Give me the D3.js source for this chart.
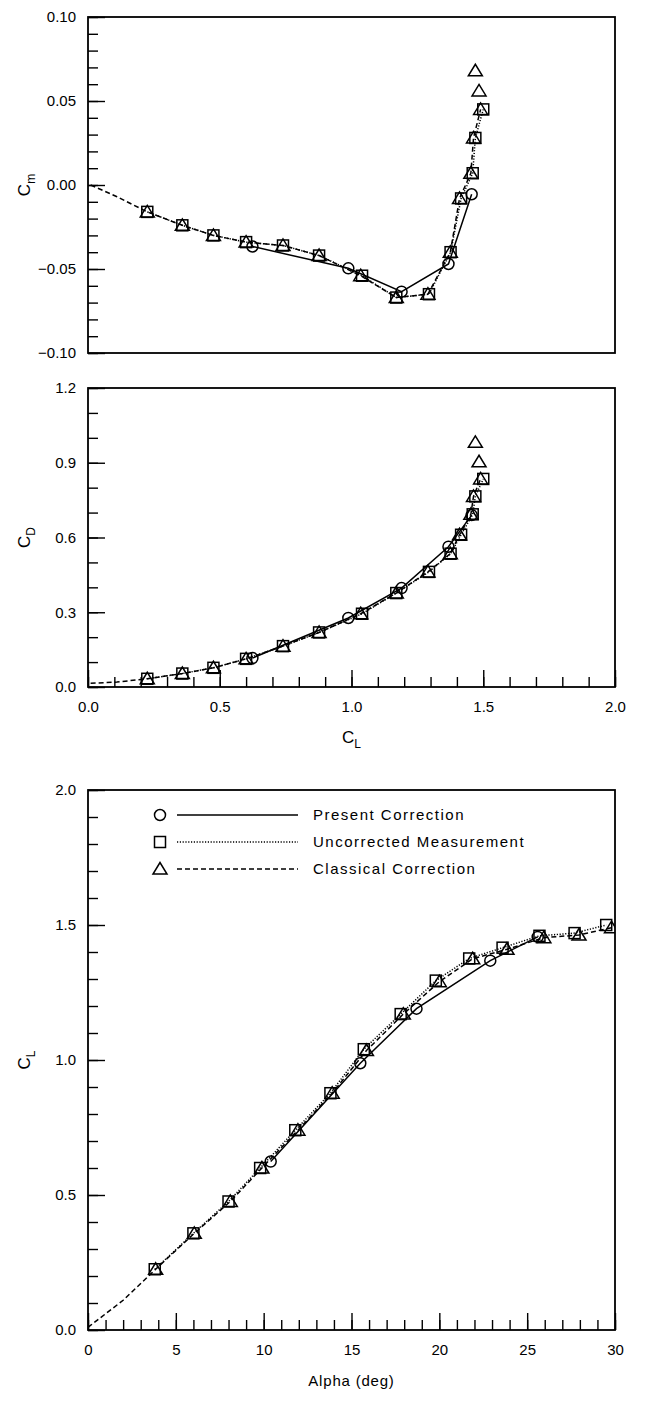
<!DOCTYPE html>
<html>
<head>
<meta charset="utf-8">
<script src="https://cdn.jsdelivr.net/npm/d3@7"></script>
<style>
  body { margin: 0; background: #fff; }
  text { font-family: "Liberation Sans", Arial, sans-serif; fill: #000; }
</style>
</head>
<body>
<svg id="chart" width="650" height="1405"></svg>
<script>
// ---- data ----
const presentAlpha = [10.4, 15.5, 18.7, 22.9, 25.6];
const presentCL    = [0.624, 0.988, 1.19, 1.368, 1.456];
const presentCD    = [0.116, 0.277, 0.397, 0.563, 0.69];
const presentCm    = [-0.0366, -0.0496, -0.0635, -0.047, -0.0055];

const uncorrAlpha = [3.8, 6.0, 8.0, 9.8, 11.8, 13.8, 15.7, 17.8, 19.8, 21.7, 23.6, 25.7, 27.7, 29.5];
const uncorrCL    = [0.225, 0.358, 0.476, 0.60, 0.74, 0.877, 1.04, 1.17, 1.294, 1.376, 1.416, 1.46, 1.47, 1.50];
const uncorrCD    = [0.033, 0.054, 0.077, 0.113, 0.164, 0.219, 0.294, 0.377, 0.462, 0.535, 0.611, 0.693, 0.765, 0.835];
const uncorrCm    = [-0.016, -0.024, -0.030, -0.034, -0.036, -0.042, -0.054, -0.067, -0.065, -0.040, -0.008, 0.007, 0.028, 0.045];

// classical curve starts at the origin; points below alpha 3 carry no symbol
const classAlpha = [0, 2, 3.85, 6.05, 8.1, 9.9, 11.95, 13.9, 15.85, 17.95, 20.0, 21.9, 23.85, 25.95, 27.95, 29.8, 31.9, 33.9];
const classCL    = [0.01, 0.11, 0.225, 0.358, 0.476, 0.60, 0.74, 0.877, 1.035, 1.17, 1.29, 1.375, 1.41, 1.453, 1.463, 1.49, 1.484, 1.47];
const classCD    = [0.015, 0.02, 0.033, 0.054, 0.077, 0.113, 0.164, 0.219, 0.294, 0.377, 0.462, 0.535, 0.611, 0.693, 0.765, 0.835, 0.904, 0.982];
const classCm    = [0, -0.007, -0.016, -0.024, -0.030, -0.034, -0.036, -0.042, -0.054, -0.067, -0.065, -0.040, -0.008, 0.007, 0.028, 0.045, 0.056, 0.068];

const seriesNames = ["Present Correction", "Uncorrected Measurement", "Classical Correction"];
const markerMinAlpha = 3;
const alphaMax = 30;

function rows(alpha, cl, cd, cm) {
  return alpha.map((a, i) => ({alpha: a, CL: cl[i], CD: cd[i], Cm: cm[i]}));
}

const series = [
  {name: seriesNames[0], symbol: "circle",   dash: null,      data: rows(presentAlpha, presentCL, presentCD, presentCm)},
  {name: seriesNames[1], symbol: "square",   dash: "1.2,1.6", data: rows(uncorrAlpha, uncorrCL, uncorrCD, uncorrCm)},
  {name: seriesNames[2], symbol: "triangle", dash: "5,3",     data: rows(classAlpha, classCL, classCD, classCm)}
];

const svg = d3.select("#chart");
const left = 88, right = 615;
const lw = 1.5;

function drawSymbol(g, type) {
  if (type === "circle") {
    g.append("circle").attr("r", 5.5);
  } else if (type === "square") {
    g.append("rect").attr("x", -5.5).attr("y", -5.5).attr("width", 11).attr("height", 11);
  } else {
    g.append("path").attr("d", "M-7,5L7,5L0,-6.5Z");
  }
}

function label(g, main, sub) {
  g.append("tspan").text(main);
  g.append("tspan").attr("font-size", 12).attr("dy", 5).text(sub);
}

function panel(cfg) {
  const x = d3.scaleLinear().domain(cfg.xDomain).range([left, right]);
  const y = d3.scaleLinear().domain(cfg.yDomain).range([cfg.bottom, cfg.top]);
  const g = svg.append("g");
  const clipId = "clip" + cfg.id;
  svg.append("clipPath").attr("id", clipId)
    .append("rect").attr("x", left).attr("y", cfg.top)
    .attr("width", right - left).attr("height", cfg.bottom - cfg.top);

  // y ticks (inward), minor then major with labels
  g.append("g").attr("transform", `translate(${left},0)`)
    .call(d3.axisLeft(y).tickValues(d3.range(cfg.yDomain[0], cfg.yDomain[1] + 1e-9, cfg.yMinor))
      .tickSize(-10).tickFormat(""))
    .call(a => a.select(".domain").remove());
  g.append("g").attr("transform", `translate(${left},0)`)
    .call(d3.axisLeft(y).tickValues(d3.range(cfg.yDomain[0], cfg.yDomain[1] + 1e-9, cfg.yMajor))
      .tickSize(-17).tickPadding(12).tickFormat(d3.format(cfg.yFormat)))
    .call(a => a.select(".domain").remove())
    .call(a => a.selectAll("text").attr("font-size", 15).attr("font-family", "Liberation Sans, Arial, sans-serif"));

  if (cfg.xMinor) {
    g.append("g").attr("transform", `translate(0,${cfg.bottom})`)
      .call(d3.axisBottom(x).tickValues(d3.range(cfg.xDomain[0], cfg.xDomain[1] + 1e-9, cfg.xMinor))
        .tickSize(-10).tickFormat(""))
      .call(a => a.select(".domain").remove());
    g.append("g").attr("transform", `translate(0,${cfg.bottom})`)
      .call(d3.axisBottom(x).tickValues(d3.range(cfg.xDomain[0], cfg.xDomain[1] + 1e-9, cfg.xMajor))
        .tickSize(-17).tickPadding(14).tickFormat(d3.format(cfg.xFormat)))
      .call(a => a.select(".domain").remove())
      .call(a => a.selectAll("text").attr("font-size", 15).attr("font-family", "Liberation Sans, Arial, sans-serif"));
  }
  g.selectAll(".tick line").attr("stroke", "#000").attr("stroke-width", 1.4);

  g.append("rect").attr("x", left).attr("y", cfg.top)
    .attr("width", right - left).attr("height", cfg.bottom - cfg.top)
    .attr("fill", "none").attr("stroke", "#000").attr("stroke-width", 1.8);

  // curves
  const plot = g.append("g").attr("clip-path", `url(#${clipId})`);
  const line = d3.line().x(d => x(d[cfg.xKey])).y(d => y(d[cfg.yKey]));
  series.forEach(s => {
    plot.append("path")
      .datum(s.data.filter(d => d.alpha <= alphaMax))
      .attr("d", line)
      .attr("fill", "none").attr("stroke", "#000").attr("stroke-width", lw)
      .attr("stroke-dasharray", s.dash);
    plot.selectAll(null)
      .data(s.data.filter(d => d.alpha >= markerMinAlpha && x(d[cfg.xKey]) <= right + 1))
      .enter().append("g")
      .attr("transform", d => `translate(${x(d[cfg.xKey])},${y(d[cfg.yKey])})`)
      .each(function() { drawSymbol(d3.select(this), s.symbol); })
      .selectAll("*").attr("fill", "none").attr("stroke", "#000").attr("stroke-width", lw);
  });

  // y axis title
  const yt = svg.append("text")
    .attr("transform", `translate(${cfg.yTitleX},${(cfg.top + cfg.bottom) / 2}) rotate(-90)`)
    .attr("text-anchor", "middle").attr("font-size", 17);
  label(yt, cfg.yTitle[0], cfg.yTitle[1]);

  if (cfg.xTitle) {
    const xt = svg.append("text")
      .attr("x", (left + right) / 2).attr("y", cfg.bottom + 56)
      .attr("text-anchor", "middle").attr("font-size", 15);
    if (cfg.xTitle.length > 1) { xt.attr("font-size", 17); label(xt, cfg.xTitle[0], cfg.xTitle[1]); }
    else xt.attr("letter-spacing", 0.8).text(cfg.xTitle[0]);
  }
  return {x, y};
}

panel({id: 1, top: 17, bottom: 353, xDomain: [0, 2], yDomain: [-0.1, 0.1],
  yMinor: 0.01, yMajor: 0.05, yFormat: ".2f", xKey: "CL", yKey: "Cm",
  yTitleX: 30, yTitle: ["C", "m"]});

panel({id: 2, top: 388, bottom: 687, xDomain: [0, 2], yDomain: [0, 1.2],
  yMinor: 0.1, yMajor: 0.3, yFormat: ".1f", xMinor: 0.1, xMajor: 0.5, xFormat: ".1f",
  xKey: "CL", yKey: "CD", yTitleX: 30, yTitle: ["C", "D"], xTitle: ["C", "L"]});

panel({id: 3, top: 790, bottom: 1330, xDomain: [0, 30], yDomain: [0, 2],
  yMinor: 0.1, yMajor: 0.5, yFormat: ".1f", xMinor: 1, xMajor: 5, xFormat: "d",
  xKey: "alpha", yKey: "CL", yTitleX: 30, yTitle: ["C", "L"], xTitle: ["Alpha (deg)"]});

// legend
const legend = svg.append("g").attr("transform", "translate(160,815)");
series.forEach((s, k) => {
  const row = legend.append("g").attr("transform", `translate(0,${k * 27})`);
  const sym = row.append("g");
  drawSymbol(sym, s.symbol);
  sym.selectAll("*").attr("fill", "none").attr("stroke", "#000").attr("stroke-width", lw);
  row.append("line").attr("x1", 17).attr("x2", 138).attr("y1", 0).attr("y2", 0)
    .attr("stroke", "#000").attr("stroke-width", lw).attr("stroke-dasharray", s.dash);
  row.append("text").attr("x", 153).attr("y", 5).attr("font-size", 15)
    .attr("letter-spacing", 1.5).text(s.name);
});
</script>
</body>
</html>
